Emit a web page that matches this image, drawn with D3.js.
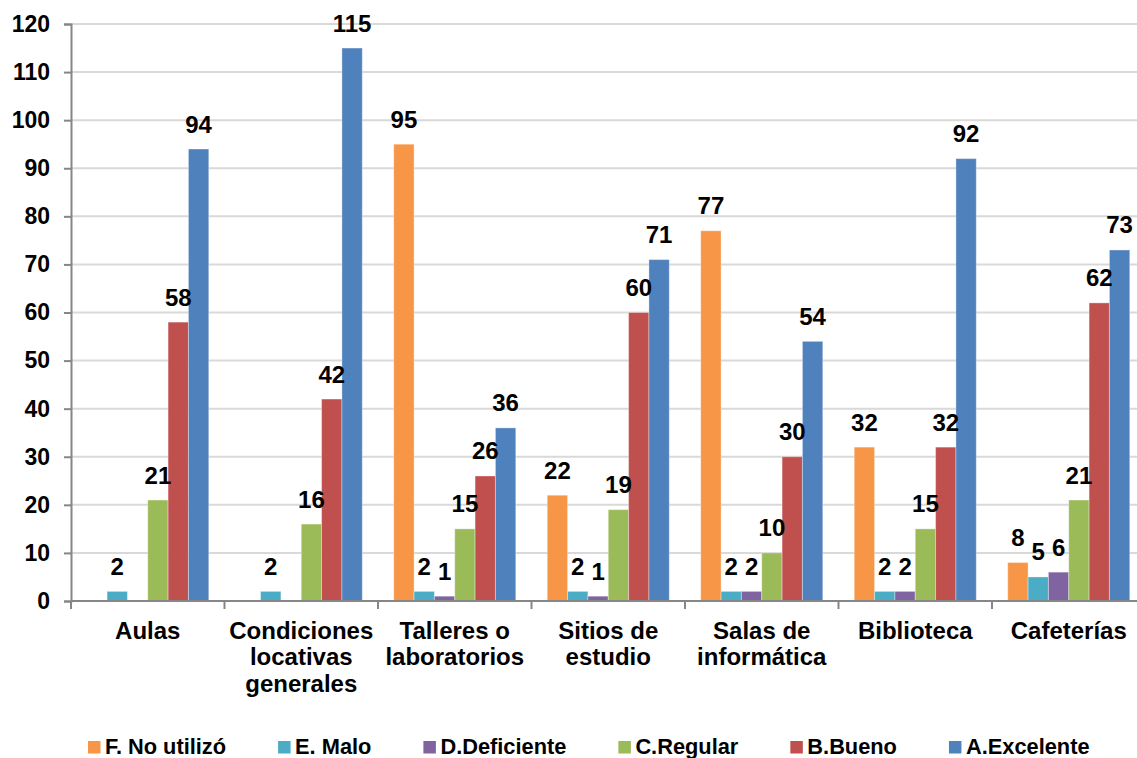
<!DOCTYPE html>
<html>
<head>
<meta charset="utf-8">
<script src="https://cdn.jsdelivr.net/npm/d3@7"></script>
<style>
  html, body { margin: 0; padding: 0; background: #fff; }
  svg { display: block; font-family: "Liberation Sans", Arial, sans-serif; font-weight: bold; }
</style>
</head>
<body>
<svg id="chart" width="1137" height="758"></svg>
<script>
const categories = [
  ["Aulas"],
  ["Condiciones", "locativas", "generales"],
  ["Talleres o", "laboratorios"],
  ["Sitios de", "estudio"],
  ["Salas de", "informática"],
  ["Biblioteca"],
  ["Cafeterías"]
];
const seriesNames = ["F. No utilizó", "E. Malo", "D.Deficiente", "C.Regular", "B.Bueno", "A.Excelente"];
const seriesColors = ["#F79646", "#4BACC6", "#8064A2", "#9BBB59", "#C0504D", "#4F81BD"];
const noUtilizo  = [0, 0, 95, 22, 77, 32, 8];
const malo       = [2, 2, 2, 2, 2, 2, 5];
const deficiente = [0, 0, 1, 1, 2, 2, 6];
const regular    = [21, 16, 15, 19, 10, 15, 21];
const bueno      = [58, 42, 26, 60, 30, 32, 62];
const excelente  = [94, 115, 36, 71, 54, 92, 73];
const yTicks = [0, 10, 20, 30, 40, 50, 60, 70, 80, 90, 100, 110, 120];

const seriesValues = [noUtilizo, malo, deficiente, regular, bueno, excelente];
const catKeys = categories.map(c => c.join(" "));

const svg = d3.select("#chart");
const plotLeft = 71, plotRight = 1145.5, plotTop = 24, plotBottom = 601;

const y = d3.scaleLinear().domain([0, 120]).range([plotBottom, plotTop]);
const x0 = d3.scaleBand().domain(catKeys).range([plotLeft, plotRight])
  .paddingInner(0.205).paddingOuter(0.1025);
const x1 = d3.scaleBand().domain(seriesNames).range([0, x0.bandwidth()]);

// gridlines
svg.append("g").selectAll("line").data(yTicks.filter(t => t > 0)).join("line")
  .attr("x1", plotLeft).attr("x2", plotRight)
  .attr("y1", d => y(d)).attr("y2", d => y(d))
  .attr("stroke", "#D9D9D9").attr("stroke-width", 2);

// y axis
const yAxis = d3.axisLeft(y).tickValues(yTicks).tickSize(7).tickPadding(14);
const gy = svg.append("g").attr("transform", `translate(${plotLeft},0)`).call(yAxis);
gy.select(".domain").attr("stroke", "#868686").attr("stroke-width", 2);
gy.selectAll(".tick line").attr("stroke", "#868686").attr("stroke-width", 2);
gy.selectAll(".tick text").attr("font-size", 23).attr("font-weight", "bold")
  .attr("font-family", "Liberation Sans, Arial, sans-serif").attr("fill", "#000");

// bars
const flat = [];
catKeys.forEach((c, ci) => {
  seriesNames.forEach((s, si) => {
    flat.push({ cat: c, series: s, si, value: seriesValues[si][ci] });
  });
});
const nonZero = flat.filter(d => d.value > 0);

svg.append("g").selectAll("rect").data(nonZero).join("rect")
  .attr("x", d => x0(d.cat) + x1(d.series))
  .attr("y", d => y(d.value))
  .attr("width", x1.bandwidth())
  .attr("height", d => y(0) - y(d.value))
  .attr("fill", d => seriesColors[d.si])
  .attr("stroke", "rgba(255,255,255,0.35)")
  .attr("stroke-width", 1);

// x axis
const xAxisG = svg.append("g");
xAxisG.append("line").attr("x1", plotLeft).attr("x2", plotRight)
  .attr("y1", y(0)).attr("y2", y(0)).attr("stroke", "#868686").attr("stroke-width", 2);
const bounds = catKeys.map(c => x0(c) - x0.step() * x0.paddingOuter()).concat([plotRight]);
xAxisG.selectAll("line.tk").data(bounds).join("line").attr("class", "tk")
  .attr("x1", d => d).attr("x2", d => d)
  .attr("y1", y(0)).attr("y2", y(0) + 8)
  .attr("stroke", "#868686").attr("stroke-width", 2);

// category labels
const catText = svg.append("g").selectAll("text").data(categories).join("text")
  .attr("text-anchor", "middle")
  .attr("font-size", 24)
  .attr("fill", "#000")
  .attr("transform", (d, i) => `translate(${x0(catKeys[i]) + x0.bandwidth() / 2},638.5)`);
catText.selectAll("tspan").data(d => d).join("tspan")
  .attr("x", 0).attr("y", (d, i) => i * 26.7).text(d => d);

// data labels
svg.append("g").selectAll("text").data(nonZero).join("text")
  .attr("x", d => x0(d.cat) + x1(d.series) + x1.bandwidth() / 2)
  .attr("y", d => y(d.value) - 16.5)
  .attr("text-anchor", "middle")
  .attr("font-size", 24)
  .attr("fill", "#000")
  .text(d => d.value);

// legend
const legend = svg.append("g");
let lx = 88;
seriesNames.forEach((s, i) => {
  const g = legend.append("g").attr("transform", `translate(${lx},0)`);
  g.append("rect").attr("x", 0).attr("y", 741).attr("width", 12.5).attr("height", 12.5)
    .attr("fill", seriesColors[i]);
  const t = g.append("text").attr("x", 17).attr("y", 753.5)
    .attr("font-size", 21.8).attr("fill", "#000").text(s);
  const w = t.node().getComputedTextLength();
  lx += 17 + w + 52;
});
</script>
</body>
</html>
